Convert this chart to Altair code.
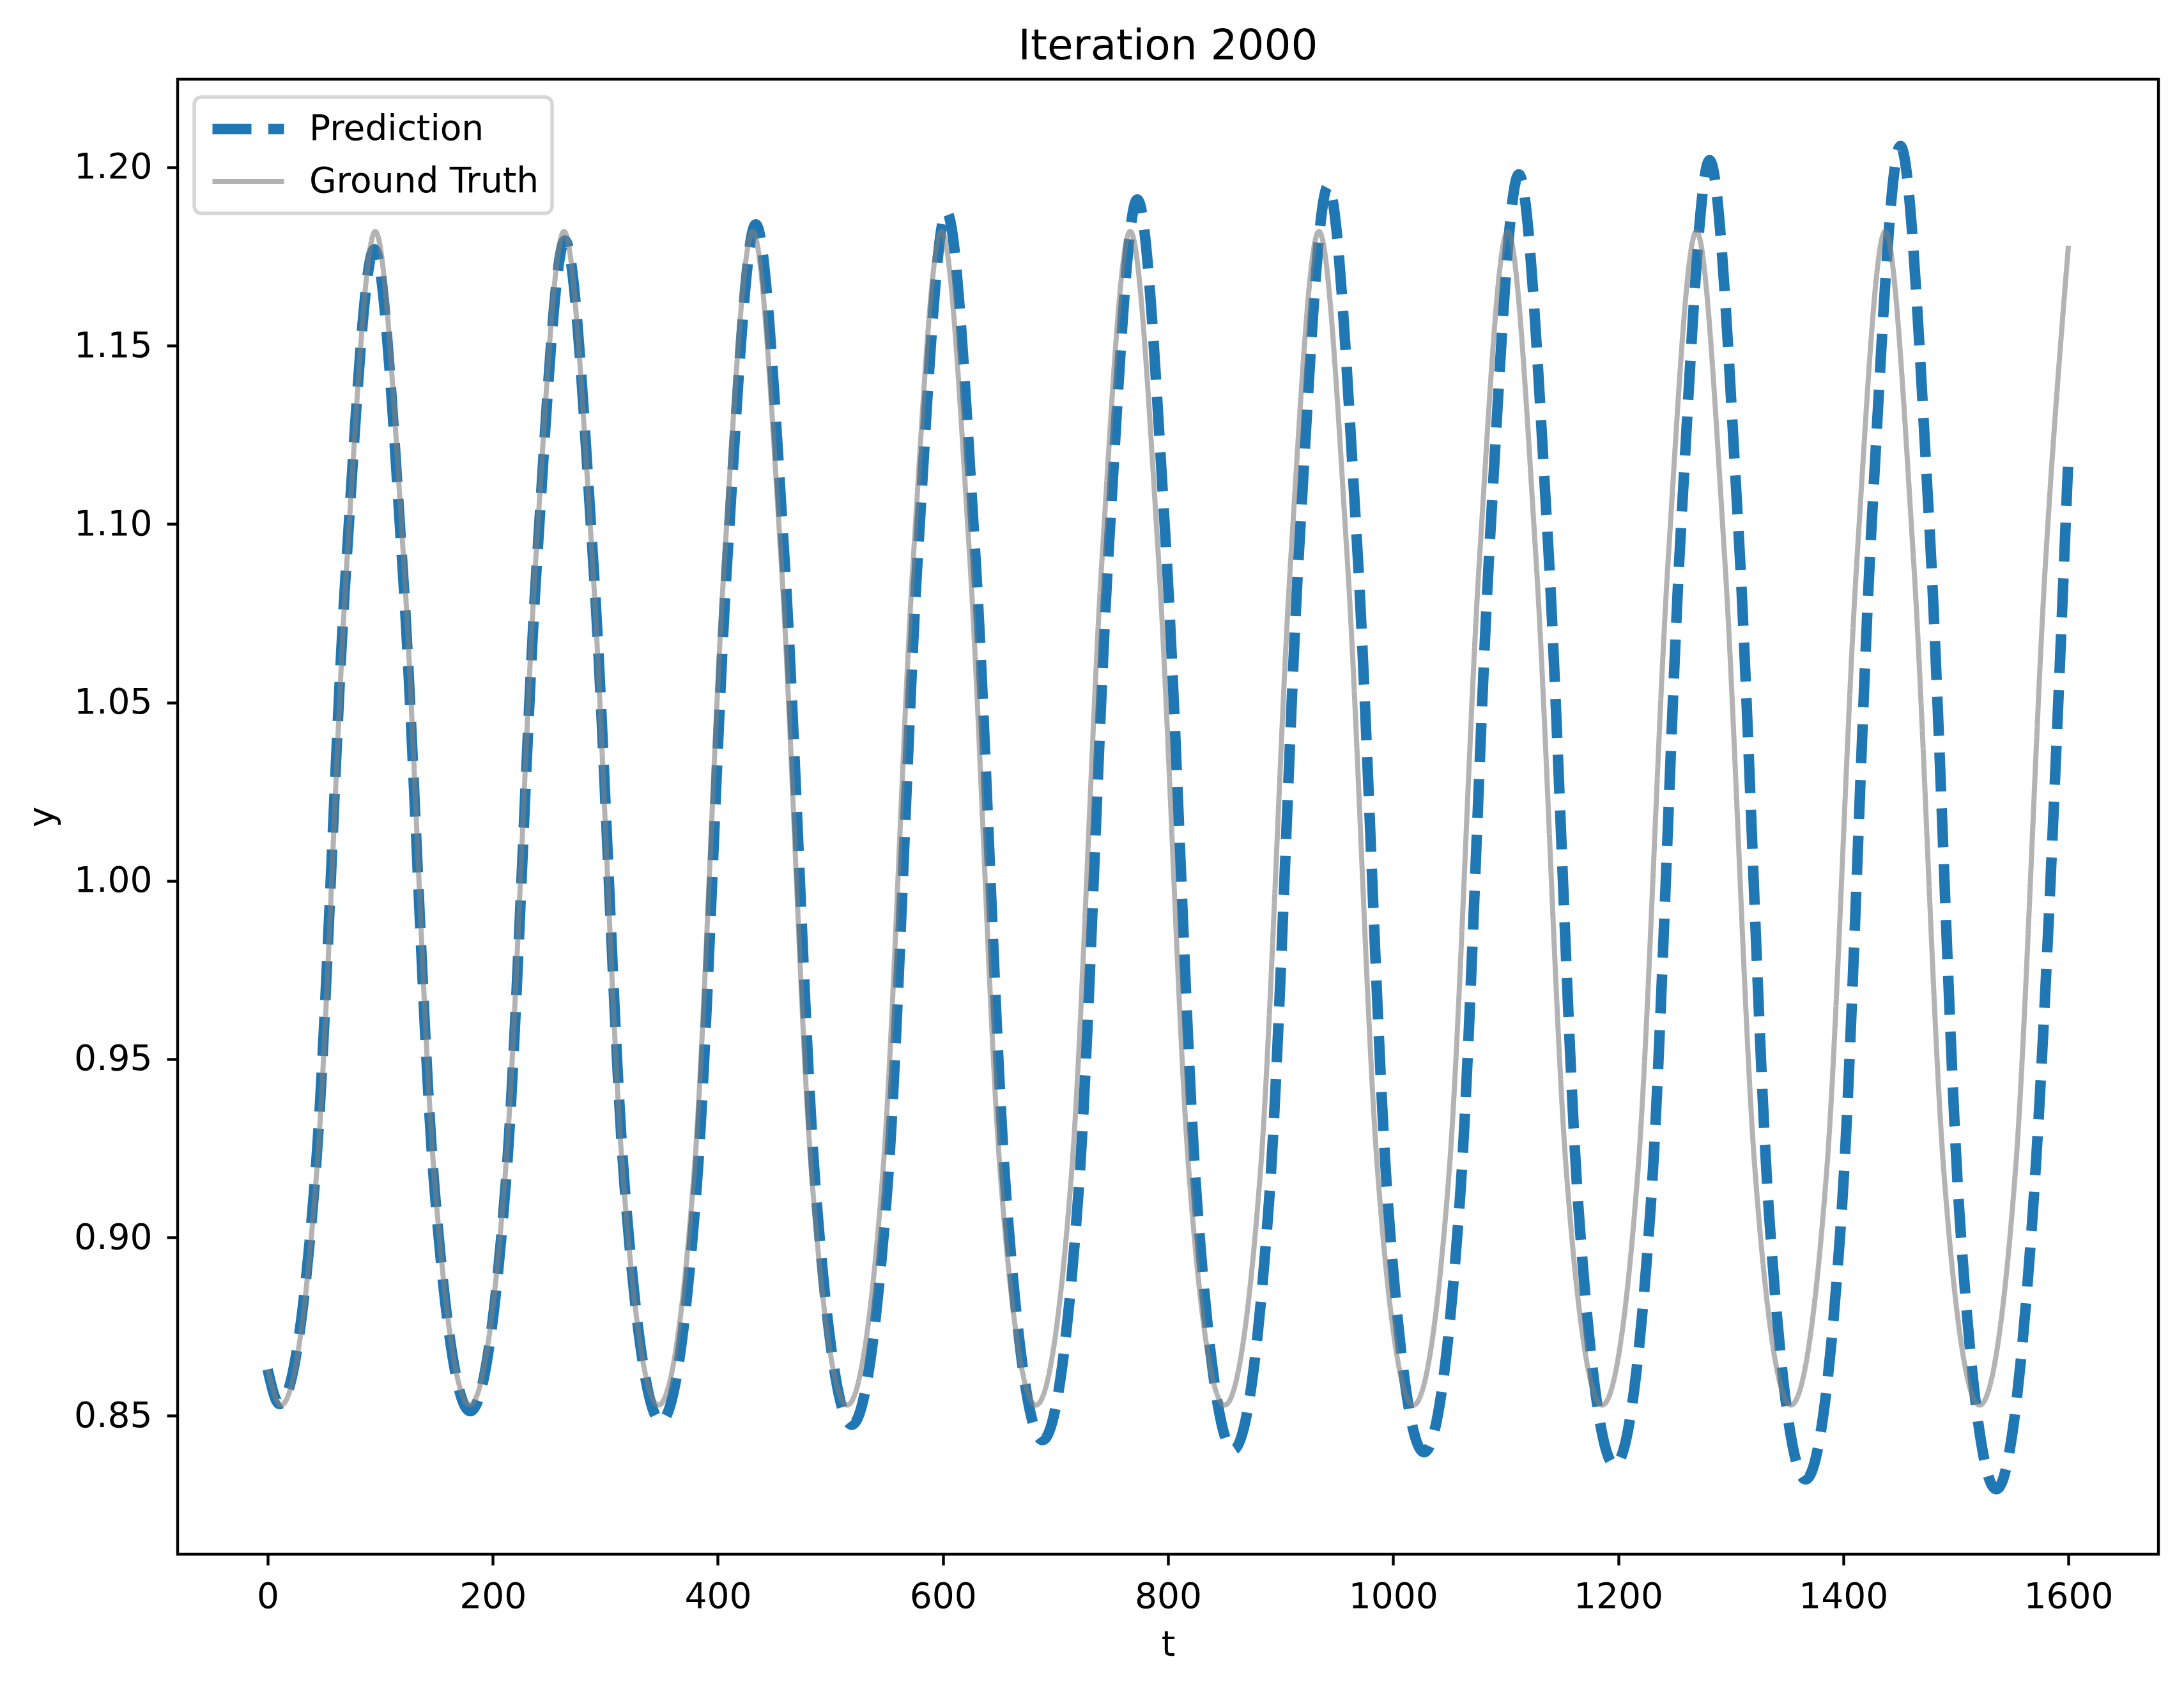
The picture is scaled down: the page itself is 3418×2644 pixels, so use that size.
import altair as alt
import pandas as pd

# Ground truth: troughs, two points on each flank, peaks
gt_t = [
    0, 11.8, 43.7, 70.5, 95.6, 120.8, 147.6,
    179.5, 211.4, 238.2, 263.3, 288.5, 315.3,
    347.2, 379.1, 405.9, 431.0, 456.2, 483.0,
    514.9, 546.8, 573.6, 598.7, 623.9, 650.7,
    682.6, 714.5, 741.3, 766.4, 791.6, 818.4,
    850.3, 882.2, 909.0, 934.1, 959.3, 986.1,
    1018.0, 1049.9, 1076.7, 1101.8, 1127.0, 1153.8,
    1185.7, 1217.6, 1244.4, 1269.5, 1294.7, 1321.5,
    1353.4, 1385.3, 1412.1, 1437.2, 1462.4, 1489.2,
    1521.1, 1553.0, 1579.8, 1600,
]
gt_y = [
    0.863, 0.853, 0.919, 1.090, 1.182, 1.090, 0.919,
    0.853, 0.919, 1.090, 1.182, 1.090, 0.919,
    0.853, 0.919, 1.090, 1.182, 1.090, 0.919,
    0.853, 0.919, 1.090, 1.182, 1.090, 0.919,
    0.853, 0.919, 1.090, 1.182, 1.090, 0.919,
    0.853, 0.919, 1.090, 1.182, 1.090, 0.919,
    0.853, 0.919, 1.090, 1.182, 1.090, 0.919,
    0.853, 0.919, 1.090, 1.182, 1.090, 0.919,
    0.853, 0.919, 1.090, 1.182, 1.090, 0.919,
    0.853, 0.919, 1.090, 1.178,
]

# Prediction: slightly longer period, amplitude growing over time
pred_t = [
    0, 10.5, 42.5, 69.4, 94.7, 120.3, 147.6,
    180.0, 212.0, 238.9, 264.2, 289.8, 317.1,
    349.5, 381.5, 408.4, 433.7, 459.3, 486.6,
    519.0, 551.0, 577.9, 603.2, 628.8, 656.1,
    688.5, 720.5, 747.4, 772.7, 798.3, 825.6,
    858.0, 890.0, 916.9, 942.2, 967.8, 995.1,
    1027.5, 1059.5, 1086.4, 1111.7, 1137.3, 1164.6,
    1197.0, 1229.0, 1255.9, 1281.2, 1306.8, 1334.1,
    1366.5, 1398.5, 1425.4, 1450.7, 1476.3, 1503.6,
    1536.0, 1568.0, 1600,
]
pred_y = [
    0.863, 0.8533, 0.9180, 1.0864, 1.1770, 1.0858, 0.9164,
    0.8513, 0.9169, 1.0876, 1.1795, 1.0868, 0.9147,
    0.8485, 0.9156, 1.0901, 1.1840, 1.0898, 0.9148,
    0.8475, 0.9155, 1.0923, 1.1875, 1.0911, 0.9121,
    0.8432, 0.9128, 1.0936, 1.1910, 1.0929, 0.9106,
    0.8405, 0.9113, 1.0955, 1.1947, 1.0953, 0.9108,
    0.8398, 0.9114, 1.0977, 1.1980, 1.0967, 0.9086,
    0.8362, 0.9094, 1.0996, 1.2020, 1.0985, 0.9062,
    0.8322, 0.9070, 1.1013, 1.2060, 1.1006, 0.9047,
    0.8294, 0.9054, 1.1190,
]

series = ["Prediction", "Ground Truth"]
x_ticks = [0, 200, 400, 600, 800, 1000, 1200, 1400, 1600]
y_ticks = [0.85, 0.90, 0.95, 1.00, 1.05, 1.10, 1.15, 1.20]

df = pd.concat(
    [
        pd.DataFrame({"t": pred_t, "y": pred_y, "series": "Prediction"}),
        pd.DataFrame({"t": gt_t, "y": gt_y, "series": "Ground Truth"}),
    ]
)

# Shared encodings, so both layers feed one merged legend
base = (
    alt.Chart(df)
    .mark_line(interpolate="monotone", strokeCap="butt")
    .encode(
        alt.X("t:Q")
        .title("t")
        .scale(domain=[-80, 1680], nice=False, zero=False)
        .axis(values=x_ticks, format="d"),
        alt.Y("y:Q")
        .title("y")
        .scale(domain=[0.8112, 1.2247], nice=False, zero=False)
        .axis(values=y_ticks, format=".2f"),
        alt.Color("series:N")
        .title(None)
        .scale(domain=series, range=["#1f77b4", "#808080"]),
        alt.StrokeDash("series:N")
        .title(None)
        .scale(domain=series, range=[[61, 26.4], [1, 0]]),
        alt.StrokeWidth("series:N")
        .title(None)
        .scale(domain=series, range=[16.5, 8]),
        alt.Opacity("series:N")
        .title(None)
        .scale(domain=series, range=[1, 0.6]),
    )
)

# Prediction underneath, ground truth drawn on top
pred = base.transform_filter(alt.datum.series == "Prediction")
truth = base.transform_filter(alt.datum.series == "Ground Truth")

chart = (
    alt.layer(pred, truth)
    .properties(
        width=3100,
        height=2309,
        title=alt.Title("Iteration 2000"),
        padding={"left": 270, "top": 116, "right": 30, "bottom": 200},
        autosize=alt.AutoSizeParams(type="none"),
    )
    .configure_view(stroke="black", strokeWidth=4.4)
    .configure_axis(
        domain=False,
        grid=False,
        tickSize=17,
        tickWidth=4.4,
        tickColor="black",
        labelFont="DejaVu Sans",
        labelFontSize=55,
        labelColor="black",
        labelPadding=23,
        titleFont="DejaVu Sans",
        titleFontSize=55,
        titleFontWeight="normal",
        titleColor="black",
    )
    .configure_axisX(titlePadding=21)
    .configure_axisY(titlePadding=21)
    .configure_legend(
        orient="none",
        legendX=26,
        legendY=28,
        padding=20,
        fillColor="rgba(255,255,255,0.8)",
        strokeColor="#d6d6d6",
        strokeWidth=5.5,
        cornerRadius=11,
        symbolType="stroke",
        symbolSize=12544,
        labelFont="DejaVu Sans",
        labelFontSize=55,
        labelColor="black",
        labelOffset=31,
        labelLimit=1000,
        clipHeight=60,
        rowPadding=22,
    )
    .configure_title(
        font="DejaVu Sans",
        fontSize=66,
        fontWeight="normal",
        color="black",
        anchor="middle",
        baseline="alphabetic",
        offset=17,
    )
)

chart.save("out.html", embed_options={"renderer": "svg", "actions": False})
